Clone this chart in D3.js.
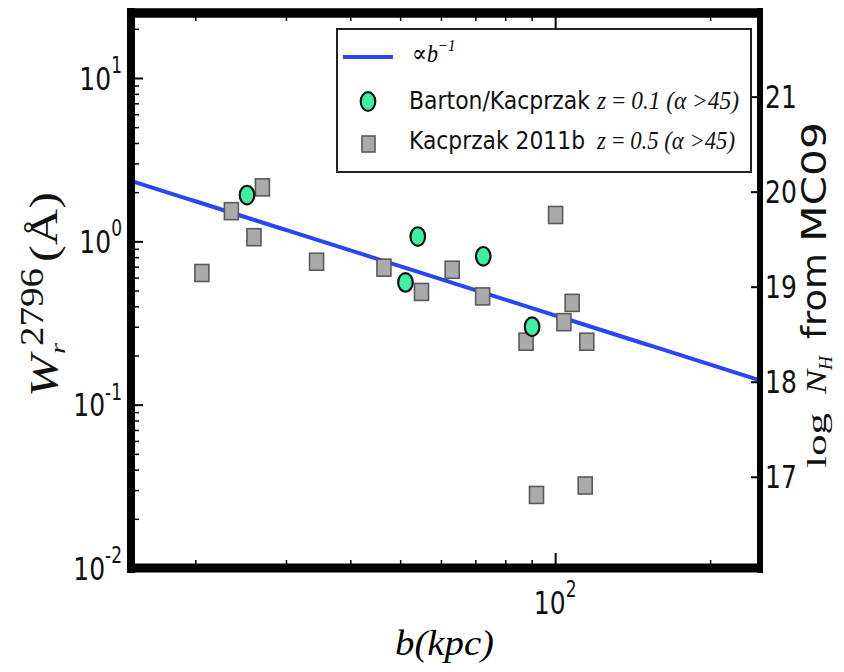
<!DOCTYPE html>
<html><head><meta charset="utf-8">
<script src="https://cdn.jsdelivr.net/npm/d3@7"></script>
<style>html,body{margin:0;padding:0;background:#fff;}svg{display:block;}</style>
</head><body>
<svg id="c" width="844" height="672"></svg>
<script>
// ---- data ----
const bartonB = [25.2, 51.2, 54.1, 72.5, 90.2];
const bartonW = [1.92, 0.56, 1.07, 0.81, 0.30];
const kacB = [27.0, 23.5, 26.0, 20.6, 34.4, 46.5, 55.0, 63.1, 72.3, 100.2, 107.9, 104.0, 87.8, 115.2, 92.0, 114.4];
const kacW = [2.14, 1.53, 1.06, 0.64, 0.75, 0.69, 0.49, 0.67, 0.46, 1.45, 0.42, 0.32, 0.243, 0.243, 0.028, 0.032];
const fitNorm = 35.2;           // W = fitNorm / b
const fitB = [15, 250];
const xDomain = [15, 250];
const yDomain = [0.01, 25];
const rightDomain = [16.04, 21.88];
const yMajorTicks = [0.01, 0.1, 1, 10];
const yMajorExp = ["-2", "-1", "0", "1"];
const xMajorTicks = [100];
const xMajorExp = ["2"];
const rightTicks = [17, 18, 19, 20, 21];
const legendLabels = ["Barton/Kacprzak", "Kacprzak 2011b"];
const legendMath = ["z\u2009=\u20090.1 (\u03B1 >45)", "z\u2009=\u20090.5 (\u03B1 >45)"];

// ---- layout ----
const L = 131, R = 760, T = 13, B = 568;
const svg = d3.select("#c");
const x = d3.scaleLog().domain(xDomain).range([L, R]);
const y = d3.scaleLog().domain(yDomain).range([B, T]);
const yr = d3.scaleLinear().domain(rightDomain).range([B, T]);

const SANS = "DejaVu Sans, sans-serif";
const SERIF = "Liberation Serif, DejaVu Serif, serif";
const SY = 1.3;

function minorTicks(dom) {
  const out = [];
  for (let e = -3; e <= 3; e++) for (let m = 2; m <= 9; m++) {
    const v = m * Math.pow(10, e);
    if (v > dom[0] && v < dom[1]) out.push(v);
  }
  return out;
}

// fit line
const fitData = d3.range(0, 101).map(i => {
  const b = fitB[0] * Math.pow(fitB[1] / fitB[0], i / 100);
  return [b, fitNorm / b];
});
svg.append("path").datum(fitData)
  .attr("d", d3.line().x(d => x(d[0])).y(d => y(d[1])))
  .attr("fill", "none").attr("stroke", "#2846f5").attr("stroke-width", 4);

// squares
svg.append("g").selectAll("rect").data(kacB.map((b, i) => [b, kacW[i]])).join("rect")
  .attr("x", d => x(d[0]) - 7).attr("y", d => y(d[1]) - 8.5)
  .attr("width", 14).attr("height", 17)
  .attr("fill", "#aaaaaa").attr("stroke", "#5a5a5a").attr("stroke-width", 1.6);

// circles
svg.append("g").selectAll("ellipse").data(bartonB.map((b, i) => [b, bartonW[i]])).join("ellipse")
  .attr("cx", d => x(d[0])).attr("cy", d => y(d[1]))
  .attr("rx", 7.3).attr("ry", 9.3)
  .attr("fill", "#3df0a2").attr("stroke", "#111").attr("stroke-width", 2.2);

// axes ticks (inward)
function styleAxis(g, w) {
  g.select(".domain").remove();
  g.selectAll("line").attr("stroke", "#000").attr("stroke-width", w);
  g.selectAll("text").remove();
}
svg.append("g").attr("transform", `translate(${L},0)`)
  .call(d3.axisLeft(y).tickValues(yMajorTicks).tickSize(-12)).call(g => styleAxis(g, 2));
svg.append("g").attr("transform", `translate(${L},0)`)
  .call(d3.axisLeft(y).tickValues(minorTicks(yDomain)).tickSize(-8)).call(g => styleAxis(g, 1.5));
svg.append("g").attr("transform", `translate(0,${B})`)
  .call(d3.axisBottom(x).tickValues(xMajorTicks).tickSize(-15)).call(g => styleAxis(g, 2));
svg.append("g").attr("transform", `translate(0,${B})`)
  .call(d3.axisBottom(x).tickValues(minorTicks(xDomain)).tickSize(-8)).call(g => styleAxis(g, 1.5));
svg.append("g").attr("transform", `translate(0,${T})`)
  .call(d3.axisTop(x).tickValues(xMajorTicks).tickSize(-15)).call(g => styleAxis(g, 2));
svg.append("g").attr("transform", `translate(0,${T})`)
  .call(d3.axisTop(x).tickValues(minorTicks(xDomain)).tickSize(-8)).call(g => styleAxis(g, 1.5));
svg.append("g").attr("transform", `translate(${R},0)`)
  .call(d3.axisRight(yr).tickValues(rightTicks).tickSize(-9)).call(g => styleAxis(g, 2));

// frame
svg.append("line").attr("x1", L).attr("x2", L).attr("y1", T - 5).attr("y2", B + 5).attr("stroke", "#000").attr("stroke-width", 8);
svg.append("line").attr("x1", R).attr("x2", R).attr("y1", T - 5).attr("y2", B + 5).attr("stroke", "#000").attr("stroke-width", 6);
svg.append("line").attr("x1", L - 4).attr("x2", R + 3).attr("y1", T).attr("y2", T).attr("stroke", "#000").attr("stroke-width", 9.5);
svg.append("line").attr("x1", L - 4).attr("x2", R + 3).attr("y1", B).attr("y2", B).attr("stroke", "#000").attr("stroke-width", 9);

// stretched text helper
function stext(px, py, sx, sy, rot) {
  return svg.append("g").attr("transform", `translate(${px},${py}) rotate(${rot || 0}) scale(${sx},${sy})`)
    .append("text");
}

// left tick labels
yMajorTicks.forEach((v, i) => {
  const t = stext(122, y(v), 1, SY).attr("text-anchor", "end").attr("font-family", SANS)
    .attr("font-size", 25).attr("dy", "0.36em").attr("fill", "#111");
  t.append("tspan").text("10");
  t.append("tspan").attr("font-size", 17).attr("dy", "-0.75em").text(yMajorExp[i]);
});
// bottom tick labels
xMajorTicks.forEach((v, i) => {
  const t = stext(x(v), 602, 1, SY).attr("text-anchor", "middle").attr("font-family", SANS)
    .attr("font-size", 25).attr("dy", "0.36em").attr("fill", "#111");
  t.append("tspan").text("10");
  t.append("tspan").attr("font-size", 17).attr("dy", "-0.75em").text(xMajorExp[i]);
});
// right tick labels
rightTicks.forEach(v => {
  stext(765, yr(v), 1, SY).attr("font-family", SANS).attr("font-size", 25)
    .attr("dy", "0.36em").attr("fill", "#111").text(v);
});

// x label
svg.append("text").attr("x", 395).attr("y", 655).attr("font-family", SERIF)
  .attr("font-style", "italic").attr("font-size", 35)
  .attr("textLength", 99).attr("lengthAdjust", "spacingAndGlyphs").text("b(kpc)");

// y label (rotated, reads bottom to top)
{
  const g = svg.append("g").attr("transform", "translate(57,296) rotate(-90)");
  const part = (tx, ty, len, fs, it, s) => g.append("text").attr("x", tx).attr("y", ty)
    .attr("font-family", SERIF).attr("font-style", it ? "italic" : "normal").attr("font-size", fs)
    .attr("textLength", len).attr("lengthAdjust", "spacingAndGlyphs").attr("fill", "#111").text(s);
  part(-101, 0, 42, 40, true, "W");
  part(-58, 8, 11, 22, true, "r");
  part(-50, -14, 78, 34, false, "2796");
  part(34, 0, 70, 40, false, "(Å)");
}
// right label (rotated, reads bottom to top)
{
  const g = svg.append("g").attr("transform", "translate(826,296) rotate(-90)");
  const part = (tx, ty, len, fs, fam, it, s) => g.append("text").attr("x", tx).attr("y", ty)
    .attr("font-family", fam).attr("font-style", it ? "italic" : "normal").attr("font-size", fs)
    .attr("textLength", len).attr("lengthAdjust", "spacingAndGlyphs").attr("fill", "#111").text(s);
  part(-172, 0, 55, 28, SERIF, false, "log");
  part(-98, 0, 24, 30, SERIF, true, "N");
  part(-74, 6, 14, 19, SERIF, true, "H");
  part(-43, 0, 86, 33, SANS, false, "from");
  part(54, 0, 120, 33, SANS, false, "MC09");
}

// legend
svg.append("rect").attr("x", 337).attr("y", 29).attr("width", 414).attr("height", 143)
  .attr("fill", "#fff").attr("stroke", "#222").attr("stroke-width", 2);
svg.append("line").attr("x1", 343).attr("x2", 393).attr("y1", 57).attr("y2", 57)
  .attr("stroke", "#2846f5").attr("stroke-width", 4);
{
  const t = stext(412, 62, 1, 1.15).attr("font-family", SERIF).attr("font-style", "italic").attr("font-size", 22);
  t.append("tspan").text("\u221Db");
  t.append("tspan").attr("font-size", 15).attr("dy", -10).text("\u22121");
}
svg.append("ellipse").attr("cx", 368).attr("cy", 101.5).attr("rx", 7.3).attr("ry", 9.3)
  .attr("fill", "#3df0a2").attr("stroke", "#111").attr("stroke-width", 2.2);
svg.append("rect").attr("x", 362).attr("y", 136).attr("width", 13).attr("height", 16)
  .attr("fill", "#aaaaaa").attr("stroke", "#5a5a5a").attr("stroke-width", 1.6);
const legSansLen = [181, 176];
const legMathLen = [142, 138];
[109, 149].forEach((by, i) => {
  stext(409, by, 1, 1.15).attr("fill", "#111").attr("font-family", SANS).attr("font-size", 21)
    .attr("textLength", legSansLen[i]).attr("lengthAdjust", "spacingAndGlyphs").text(legendLabels[i]);
  stext(597, by, 1, 1.15).attr("fill", "#111").attr("font-family", SERIF).attr("font-style", "italic")
    .attr("font-size", 21).attr("textLength", legMathLen[i]).attr("lengthAdjust", "spacingAndGlyphs").text(legendMath[i]);
});
</script>
</body></html>
